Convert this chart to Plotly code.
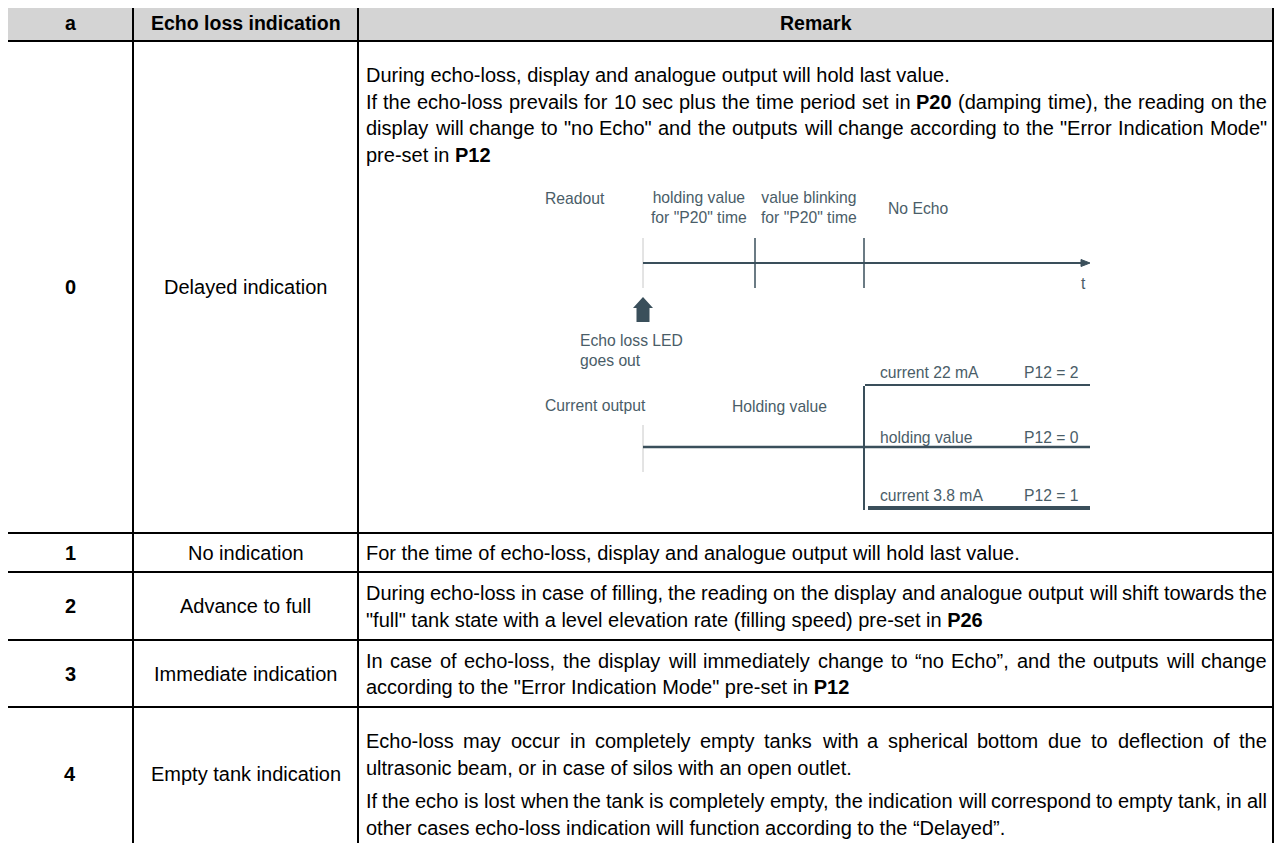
import plotly.graph_objects as go

# ---------------- data ----------------
headers = ["a", "Echo loss indication", "Remark"]
codes = ["0", "1", "2", "3", "4"]
names = ["Delayed indication", "No indication", "Advance to full",
         "Immediate indication", "Empty tank indication"]
# each remark: list of (line text, justified?)
remark_0 = [("During echo-loss, display and analogue output will hold last value.", False),
            ("If the echo-loss prevails for 10 sec plus the time period set in <b>P20</b> (damping time), the reading on the", True),
            ("display will change to \"no Echo\" and the outputs will change according to the \"Error Indication Mode\"", True),
            ("pre-set in <b>P12</b>", False)]
remark_1 = [("For the time of echo-loss, display and analogue output will hold last value.", False)]
remark_2 = [("During echo-loss in case of filling, the reading on the display and analogue output will shift towards the", True),
            ("\"full\" tank state with a level elevation rate (filling speed) pre-set in <b>P26</b>", False)]
remark_3 = [("In case of echo-loss, the display will immediately change to “no Echo”, and the outputs will change", True),
            ("according to the \"Error Indication Mode\" pre-set in <b>P12</b>", False)]
remark_4 = [("Echo-loss may occur in completely empty tanks with a spherical bottom due to deflection of the", True),
            ("ultrasonic beam, or in case of silos with an open outlet.", False),
            ("If the echo is lost when the tank is completely empty, the indication will correspond to empty tank, in all", True),
            ("other cases echo-loss indication will function according to the “Delayed”.", False)]
remarks = [remark_0, remark_1, remark_2, remark_3, remark_4]

readout_label = "Readout"
phase_labels = ["holding value<br>for \"P20\" time", "value blinking<br>for \"P20\" time", "No Echo"]
time_label = "t"
led_label = "Echo loss LED<br>goes out"
current_label = "Current output"
holding_label = "Holding value"
mode_labels = ["current 22 mA", "holding value", "current 3.8 mA"]
mode_codes = ["P12 = 2", "P12 = 0", "P12 = 1"]

# ---------------- layout constants (screen pixels) ----------------
W, H = 1282, 843
OFF = 8  # page body margin
X_L, X_C1, X_C2, X_R = 7, 133, 358, 1273
Y_TOP, Y_HEAD = 4, 41
row_edges = [41, 533, 572, 640, 707, 843]
TXT_L, TXT_R = 366, 1267
FONT = "Liberation Sans, Arial, sans-serif"
FS = 20
HFS = 19.5
DIA = "#3a4f5b"
DIA_T = "#4a5d68"
DFS = 15.7

# Arial / Liberation Sans advance widths (1/1000 em)
AW = {' ': 278, '"': 355, "'": 191, '(': 333, ')': 333, ',': 278, '-': 333, '.': 278,
      ':': 278, '=': 584, '“': 333, '”': 333, '’': 222}
for c in "0123456789":
    AW[c] = 556
AW.update(dict(zip("ABCDEFGHIJKLMNOPQRSTUVWXYZ",
                   [667, 667, 722, 722, 667, 611, 778, 722, 278, 500, 667, 556, 833,
                    722, 778, 667, 778, 722, 667, 611, 722, 667, 944, 667, 667, 611])))
AW.update(dict(zip("abcdefghijklmnopqrstuvwxyz",
                   [556, 556, 500, 556, 556, 278, 556, 556, 222, 222, 500, 222, 833,
                    556, 556, 556, 556, 333, 500, 278, 556, 500, 722, 500, 500, 500])))


def text_w(s, size=FS):
    s = s.replace("<b>", "").replace("</b>", "")
    return sum(AW.get(ch, 556) for ch in s) * size / 1000.0


shapes = []
ann = []


def line(x0, y0, x1, y1, color="black", width=2):
    shapes.append(dict(type="line", x0=x0, y0=y0, x1=x1, y1=y1, xref="x", yref="y",
                       line=dict(color=color, width=width)))


def txt(x, y, s, anchor="center", color="black", size=FS):
    ann.append(dict(x=x, y=y, text=s, showarrow=False, xanchor=anchor, yanchor="middle",
                    xref="x", yref="y", borderpad=0, borderwidth=0,
                    font=dict(family=FONT, size=size, color=color), align="center"))


# header background
shapes.append(dict(type="rect", x0=X_L, x1=X_R, y0=Y_TOP, y1=Y_HEAD, xref="x", yref="y",
                   fillcolor="#d4d4d4", line=dict(width=0), layer="below"))
# grid
for y in [Y_TOP] + row_edges[:-1]:
    line(X_L, y, X_R, y)
for x in [X_L, X_C1, X_C2, X_R]:
    line(x, Y_TOP, x, H)

hy = (Y_TOP + Y_HEAD) / 2 + 0.5
for xc, h in zip([(X_L + X_C1) / 2, (X_C1 + X_C2) / 2, (X_C2 + X_R) / 2], headers):
    txt(xc, hy, "<b>" + h + "</b>", size=HFS)

LINE_H = 26.5
first_line_y = [75, 552.5, 593, 660.5, 741]
para_gap = {4: {2: 7}}

for i, (c, n, rem) in enumerate(zip(codes, names, remarks)):
    ym = (row_edges[i] + row_edges[i + 1]) / 2
    if i == 4:
        ym = 774
    txt((X_L + X_C1) / 2, ym, "<b>" + c + "</b>")
    txt((X_C1 + X_C2) / 2, ym, n)
    y = first_line_y[i]
    for j, (s, just) in enumerate(rem):
        y += para_gap.get(i, {}).get(j, 0)
        if just:
            words = s.split(" ")
            ws = [text_w(wd) for wd in words]
            gap = (TXT_R - TXT_L - sum(ws)) / (len(words) - 1)
            x = TXT_L
            for k, (wd, wdw) in enumerate(zip(words, ws)):
                if k == len(words) - 1:
                    txt(TXT_R, y, wd, anchor="right")
                else:
                    txt(x, y, wd, anchor="left")
                x += wdw + gap
        else:
            txt(TXT_L, y, s, anchor="left")
        y += LINE_H

# ---------------- diagram ----------------
X0, X1, X2, XE = 643, 755, 864, 1090
# readout time axis
line(X0, 238, X0, 288, color="#c8c8c8", width=1)
line(X0, 263, XE - 5, 263, color=DIA, width=2)
line(X1, 238, X1, 288, color=DIA, width=1.5)
line(X2, 238, X2, 288, color=DIA, width=1.5)
shapes.append(dict(type="path", path=f"M {XE-9} 259.5 L {XE} 263 L {XE-9} 266.5 Z",
                   fillcolor=DIA, line=dict(color=DIA, width=1), xref="x", yref="y"))
# LED arrow
shapes.append(dict(type="path",
                   path=f"M {X0-10} 308 L {X0} 297 L {X0+10} 308 L {X0+6.5} 308 L {X0+6.5} 322 L {X0-6.5} 322 L {X0-6.5} 308 Z",
                   fillcolor=DIA, line=dict(width=0), xref="x", yref="y"))
txt(545, 198, readout_label, anchor="left", color=DIA_T, size=DFS)
txt(699, 207, phase_labels[0], color=DIA_T, size=DFS)
txt(809, 207, phase_labels[1], color=DIA_T, size=DFS)
txt(888, 208, phase_labels[2], anchor="left", color=DIA_T, size=DFS)
txt(1083, 283, time_label, color=DIA_T, size=DFS)
ann.append(dict(x=580, y=350, text=led_label, showarrow=False, xanchor="left", yanchor="middle",
                xref="x", yref="y", borderpad=0, borderwidth=0, align="left",
                font=dict(family=FONT, size=DFS, color=DIA_T)))

# current output
txt(545, 405, current_label, anchor="left", color=DIA_T, size=DFS)
txt(779, 406, holding_label, color=DIA_T, size=DFS)
line(X0, 425, X0, 472, color="#c8c8c8", width=1)
line(X0, 447, XE, 447, color=DIA, width=2.5)
line(X2, 386, X2, 510, color=DIA, width=2)
line(X2 + 1, 385, XE, 385, color=DIA, width=2)
line(X2 + 4, 508, XE, 508, color=DIA, width=4)
for lab, code, yy in zip(mode_labels, mode_codes, [372, 437, 495]):
    txt(880, yy, lab, anchor="left", color=DIA_T, size=DFS)
    txt(1024, yy, code, anchor="left", color=DIA_T, size=DFS)

fig = go.Figure()
fig.update_layout(width=W - OFF, height=H - OFF, margin=dict(l=0, r=0, t=0, b=0),
                  paper_bgcolor="white", plot_bgcolor="white",
                  shapes=shapes, annotations=ann, showlegend=False,
                  xaxis=dict(range=[OFF, W], visible=False, fixedrange=True),
                  yaxis=dict(range=[H, OFF], visible=False, fixedrange=True))
fig.write_html("out.html")
